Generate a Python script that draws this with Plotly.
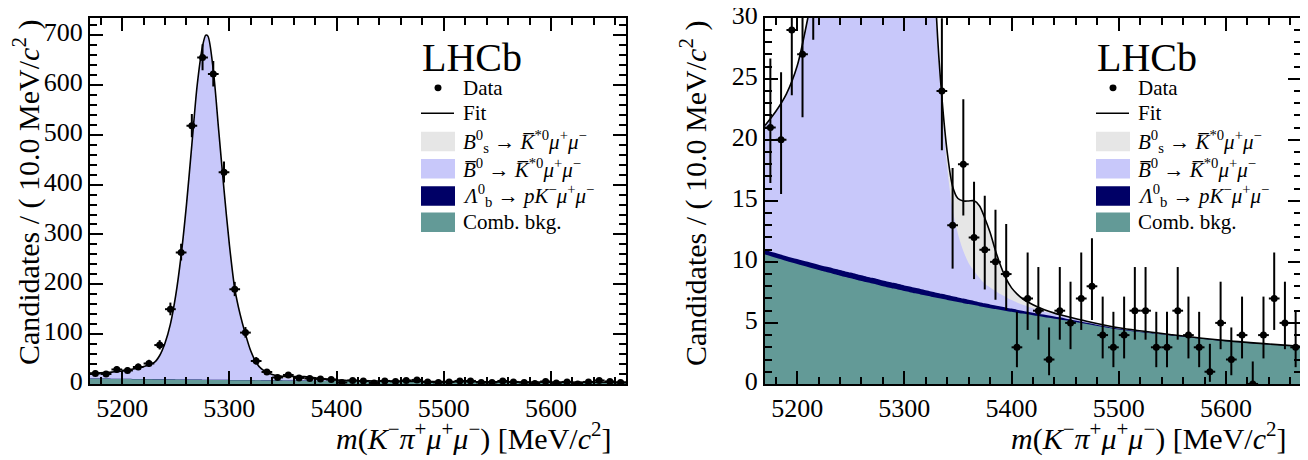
import plotly.graph_objects as go

W, H = 1308, 460

# ---------------- data ----------------
bin_centres = [5175, 5185, 5195, 5205, 5215, 5225, 5235, 5245, 5255, 5265,
               5275, 5285, 5295, 5305, 5315, 5325, 5335, 5345, 5355, 5365,
               5375, 5385, 5395, 5405, 5415, 5425, 5435, 5445, 5455, 5465,
               5475, 5485, 5495, 5505, 5515, 5525, 5535, 5545, 5555, 5565,
               5575, 5585, 5595, 5605, 5615, 5625, 5635, 5645, 5655, 5665]
counts = [21, 20, 29, 27, 34, 41, 78, 150, 264, 518,
          655, 622, 425, 190, 103, 46, 24, 13, 18, 12,
          11, 10, 9, 3, 7, 6, 2, 6, 5, 7,
          8, 4, 3, 4, 6, 6, 3, 3, 6, 4,
          3, 1, 5, 2, 4, 0, 4, 7, 5, 3]

fit_mass = [5170, 5180, 5190, 5200, 5210, 5220, 5230, 5235, 5240, 5245,
            5250, 5255, 5260, 5265, 5270, 5275, 5278, 5280, 5285, 5290,
            5295, 5300, 5305, 5310, 5315, 5320, 5325, 5330, 5335, 5340,
            5345, 5350, 5355, 5360, 5365, 5370, 5375, 5380, 5385, 5390,
            5395, 5400, 5405, 5410, 5420, 5430, 5440, 5450, 5470, 5500,
            5550, 5600, 5670]
comb_bkg = [10.60, 10.33, 10.07, 9.82, 9.57, 9.33, 9.10, 8.98, 8.87, 8.76,
            8.65, 8.54, 8.43, 8.32, 8.22, 8.12, 8.05, 8.01, 7.91, 7.81,
            7.71, 7.61, 7.52, 7.42, 7.33, 7.24, 7.15, 7.06, 6.97, 6.88,
            6.79, 6.71, 6.62, 6.54, 6.46, 6.37, 6.29, 6.21, 6.13, 6.06,
            5.98, 5.91, 5.83, 5.76, 5.62, 5.48, 5.34, 5.21, 4.90, 4.45,
            3.95, 3.50, 3.05]
lambda_b = [0.37, 0.39, 0.40, 0.42, 0.43, 0.44, 0.45, 0.45, 0.46, 0.46,
            0.47, 0.47, 0.47, 0.47, 0.47, 0.47, 0.47, 0.47, 0.47, 0.47,
            0.47, 0.46, 0.46, 0.45, 0.45, 0.44, 0.43, 0.42, 0.41, 0.40,
            0.39, 0.38, 0.37, 0.35, 0.34, 0.33, 0.31, 0.30, 0.29, 0.28,
            0.27, 0.26, 0.25, 0.24, 0.22, 0.20, 0.18, 0.16, 0.12, 0.08,
            0.05, 0.03, 0.02]
b0_signal = [10.2, 11.6, 13.3, 15.8, 20.0, 25.2, 33.5, 47.6, 72.7, 110.8,
             168.9, 249.0, 351.1, 471.2, 591.3, 669.4, 691.5, 689.5, 621.6, 501.7,
             381.8, 271.8, 183.8, 131.9, 91.9, 57.9, 34.9, 21.9, 15.2, 10.4,
             7.1, 5.2, 3.9, 3.0, 2.45, 2.0, 1.6, 1.39, 1.2, 1.0,
             0.85, 0.7, 0.6, 0.5, 0.35, 0.25, 0.2, 0.15, 0.1, 0.06,
             0.03, 0.02, 0.01]
bs_signal = [0, 0, 0, 0, 0, 0.01, 0.01, 0.01, 0.02, 0.02,
             0.03, 0.03, 0.04, 0.05, 0.06, 0.07, 0.08, 0.08, 0.09, 0.10,
             0.12, 0.15, 0.20, 0.25, 0.30, 0.40, 0.50, 0.65, 0.90, 1.30,
             1.90, 2.90, 4.10, 5.10, 5.75, 5.90, 5.40, 4.50, 3.30, 2.30,
             1.50, 1.00, 0.70, 0.50, 0.30, 0.17, 0.08, 0.05, 0.02, 0.01,
             0, 0, 0]

x_ticks = [5200, 5300, 5400, 5500, 5600]
legend_labels = [
    "Data",
    "Fit",
    "<i>B</i><sup>0</sup><sub>s</sub> \u2192 <i>K\u0305</i><sup>*0</sup><i>\u03bc</i><sup>+</sup><i>\u03bc</i><sup>\u2212</sup>",
    "<i>B\u0305</i><sup>0</sup> \u2192 <i>K\u0305</i><sup>*0</sup><i>\u03bc</i><sup>+</sup><i>\u03bc</i><sup>\u2212</sup>",
    "<i>\u039b</i><sup>0</sup><sub>b</sub> \u2192 <i>pK</i><sup>\u2212</sup><i>\u03bc</i><sup>+</sup><i>\u03bc</i><sup>\u2212</sup>",
    "Comb. bkg.",
]

for arr in (comb_bkg, lambda_b, b0_signal, bs_signal):
    assert len(arr) == len(fit_mass)

# ---------------- styling ----------------
FONT = "Liberation Serif, Times New Roman, serif"
C_BS = "#e6e6e6"
C_B0 = "#c8c8fa"
C_LB = "#000066"
C_COMB = "#639a97"


def poisson_err(n):
    if n == 0:
        return 0.0, 1.841
    lo = n * (1 - 1 / (9 * n) - 1 / (3 * n ** 0.5)) ** 3
    hi = (n + 1) * (1 - 1 / (9 * (n + 1)) + 1 / (3 * (n + 1) ** 0.5)) ** 3
    return n - lo, hi - n


err_lo = [poisson_err(n)[0] for n in counts]
err_hi = [poisson_err(n)[1] for n in counts]

cum1 = list(comb_bkg)
cum2 = [a + b for a, b in zip(cum1, lambda_b)]
cum3 = [a + b for a, b in zip(cum2, b0_signal)]
cum4 = [a + b for a, b in zip(cum3, bs_signal)]

fig = go.Figure()

panels = [("x", "y"), ("x2", "y2")]
for xa, ya in panels:
    for ys, col in ((cum4, C_BS), (cum3, C_B0), (cum2, C_LB), (cum1, C_COMB)):
        fig.add_trace(go.Scatter(x=fit_mass, y=ys, xaxis=xa, yaxis=ya, mode="lines",
                                 line=dict(width=0, shape="spline", smoothing=0.8),
                                 fill="tozeroy", fillcolor=col, showlegend=False,
                                 hoverinfo="skip"))
    fig.add_trace(go.Scatter(x=fit_mass, y=cum4, xaxis=xa, yaxis=ya, mode="lines",
                             line=dict(width=1.6, color="black", shape="spline", smoothing=0.8),
                             showlegend=False))
    fig.add_trace(go.Scatter(x=bin_centres, y=counts, xaxis=xa, yaxis=ya, mode="markers",
                             marker=dict(size=7, color="black"),
                             error_y=dict(type="data", symmetric=False, array=err_hi,
                                          arrayminus=err_lo, thickness=2, width=0, color="black"),
                             error_x=dict(type="constant", value=5, thickness=2, width=0, color="black"),
                             showlegend=False))


def px(x):
    return x / W


def py(y):
    return 1 - y / H


L0, L1 = 82, 618
R0, R1 = 757, 1293
T, B = 10, 386

axis_common = dict(showline=True, linecolor="black", linewidth=2, mirror="ticks",
                   ticks="inside", tickcolor="black", tickwidth=1.5, showgrid=False,
                   zeroline=False, tickfont=dict(family=FONT, size=26, color="black"))
minor_common = dict(ticklen=7, ticks="inside", tickcolor="black", tickwidth=1.5)

fig.update_layout(
    width=W, height=H, margin=dict(l=0, r=0, t=0, b=0),
    paper_bgcolor="white", plot_bgcolor="white", showlegend=False,
    xaxis=dict(domain=[px(L0), px(L1)], range=[5170, 5670], anchor="y",
               tickmode="array", tickvals=x_ticks, ticklen=13,
               minor=dict(dtick=20, tick0=5200, **minor_common), **axis_common),
    yaxis=dict(domain=[py(B), py(T)], range=[0, 735], anchor="x",
               tick0=0, dtick=100, ticklen=13, ticklabelshift=-3,
               minor=dict(dtick=20, **minor_common), **axis_common),
    xaxis2=dict(domain=[px(R0), px(R1)], range=[5170, 5670], anchor="y2",
                tickmode="array", tickvals=x_ticks, ticklen=13,
                minor=dict(dtick=20, tick0=5200, **minor_common), **axis_common),
    yaxis2=dict(domain=[py(B), py(T)], range=[0, 30.0001], anchor="x2",
                tick0=0, dtick=5, ticklen=13, ticklabelshift=-3,
                ticklabeloverflow="allow", automargin=False,
                minor=dict(dtick=1, **minor_common), **axis_common),
)

annotations = []
shapes = []
xtitle = ("<i>m</i>(<i>K</i><sup>\u2212</sup><i>\u03c0</i><sup>+</sup><i>\u03bc</i><sup>+</sup>"
          "<i>\u03bc</i><sup>\u2212</sup>) [MeV/<i>c</i><sup>2</sup>]")
ytitle = "Candidates / ( 10.0 MeV/<i>c</i><sup>2</sup> )"
row_y = [82, 108, 137, 165, 193, 220]

for off, ytx in ((0, 18), (675, 685)):
    annotations.append(dict(text=xtitle, x=px(606 + off), y=py(440), xref="paper", yref="paper",
                            xanchor="right", yanchor="middle", showarrow=False,
                            font=dict(family=FONT, size=30, color="black")))
    annotations.append(dict(text=ytitle, x=px(ytx), y=py(190),
                            xref="paper", yref="paper", xanchor="center", yanchor="middle",
                            textangle=-90, showarrow=False,
                            font=dict(family=FONT, size=30, color="black")))
    annotations.append(dict(text="LHCb", x=px(412 + off), y=py(51), xref="paper", yref="paper",
                            xanchor="left", yanchor="middle", showarrow=False,
                            font=dict(family=FONT, size=40, color="black")))
    for lab, ry in zip(legend_labels, row_y):
        annotations.append(dict(text=lab, x=px(453 + off), y=py(ry), xref="paper", yref="paper",
                                xanchor="left", yanchor="middle", showarrow=False,
                                font=dict(family=FONT, size=21, color="black")))
    # legend symbols
    shapes.append(dict(type="circle", xref="paper", yref="paper",
                       x0=px(426.5 + off), x1=px(433.5 + off), y0=py(85.5), y1=py(78.5),
                       fillcolor="black", line=dict(width=0)))
    shapes.append(dict(type="line", xref="paper", yref="paper",
                       x0=px(413 + off), x1=px(446 + off), y0=py(108), y1=py(108),
                       line=dict(color="black", width=1.6)))
    for ry, col in zip(row_y[2:], (C_BS, C_B0, C_LB, C_COMB)):
        shapes.append(dict(type="rect", xref="paper", yref="paper",
                           x0=px(413 + off), x1=px(447 + off), y0=py(ry + 10), y1=py(ry - 10),
                           fillcolor=col, line=dict(width=0)))

fig.update_layout(annotations=annotations, shapes=shapes)
fig.write_html("out.html")
